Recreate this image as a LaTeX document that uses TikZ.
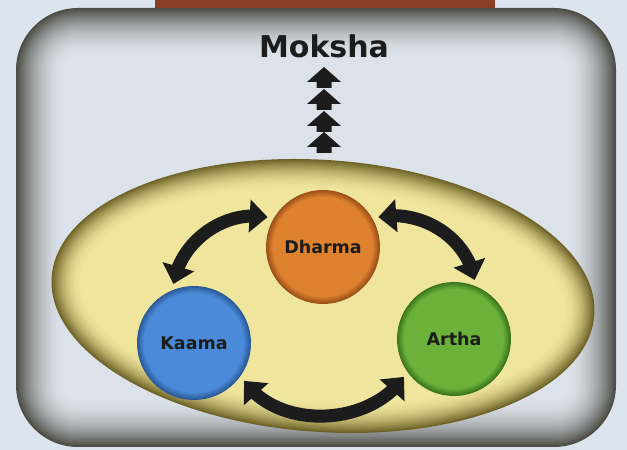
\documentclass[tikz,border=0pt]{standalone}
\usepackage{fontspec}
\setmainfont{DejaVu Sans}
\usetikzlibrary{arrows.meta,bending}
\definecolor{pagebg}{HTML}{DCE4EE}
\definecolor{panel}{HTML}{DCE2EA}
\definecolor{paneledge}{HTML}{4E4E47}
\definecolor{banner}{HTML}{8C3B25}
\definecolor{egg}{HTML}{F0E59D}
\definecolor{eggedge}{HTML}{6E6226}
\definecolor{dharmafill}{HTML}{E0832F}
\definecolor{dharmarim}{HTML}{9A5018}
\definecolor{kaamafill}{HTML}{4C8BD9}
\definecolor{kaamarim}{HTML}{2A5A98}
\definecolor{arthafill}{HTML}{6DB33B}
\definecolor{artharim}{HTML}{3B761B}
\definecolor{ink}{HTML}{1C1C1C}
\begin{document}
\begin{tikzpicture}[x=1pt,y=1pt,
    ball/.style={circle,minimum size=114pt,inner sep=0pt,fill=#1rim,text=ink,
      font=\fontsize{17.5}{18}\selectfont\bfseries,
      path picture={\foreach \j [evaluate=\j as \q using 14*\j] in {1,...,7}
        \fill[#1fill!\q!#1rim] (path picture bounding box.center) circle (57-\j);}},
    bigarrow/.style={draw=ink,line width=13pt,
      arrows={Triangle[width=32pt,length=18pt]-Triangle[width=32pt,length=18pt]},
      shorten <=6pt,shorten >=6pt}]
  \useasboundingbox (0,0) rectangle (627,450);
  \fill[pagebg] (0,0) rectangle (627,450);
  \fill[banner] (155,441) rectangle (495,450);
  \foreach \i [evaluate=\i as \p using {100*(1-(1-\i/26)^2)},
               evaluate=\i as \r using {62-1.9*\i}] in {0,...,26}
    \fill[panel!\p!paneledge,rounded corners=\r pt]
      (16+1.9*\i,3+1.9*\i) rectangle (616-1.9*\i,442-1.9*\i);
  \begin{scope}[rotate around={-4:(323,154)}]
    \foreach \i [evaluate=\i as \p using {100*(1-(1-\i/24)^2)}] in {0,...,24}
      \fill[egg!\p!eggedge] (323,154) ellipse [x radius=272-1.3*\i,y radius=136-1.3*\i];
  \end{scope}
  \foreach \t in {383,361,339,318}
    \fill[ink] (324,\t) -- (341,\t-15) -- (331.5,\t-15) -- (331.5,\t-21)
      -- (316.5,\t-21) -- (316.5,\t-15) -- (307,\t-15) -- cycle;
  \draw
    (324,392) node[anchor=base,text=ink,font=\fontsize{30}{32}\selectfont\bfseries] (moksha){Moksha}
    (323,203) node[ball=dharma] (dharma){Dharma}
    (194,107) node[ball=kaama] (kaama){Kaama}
    (454,111) node[ball=artha] (artha){Artha};
  \begin{scope}[bigarrow]
    \draw (dharma.150) to[out=165,in=85] (kaama.112);
    \draw (dharma.30) to[out=15,in=95] (artha.68);
    \draw (kaama.-35) to[out=-60,in=-120] (artha.-145);
  \end{scope}
\end{tikzpicture}
\end{document}
